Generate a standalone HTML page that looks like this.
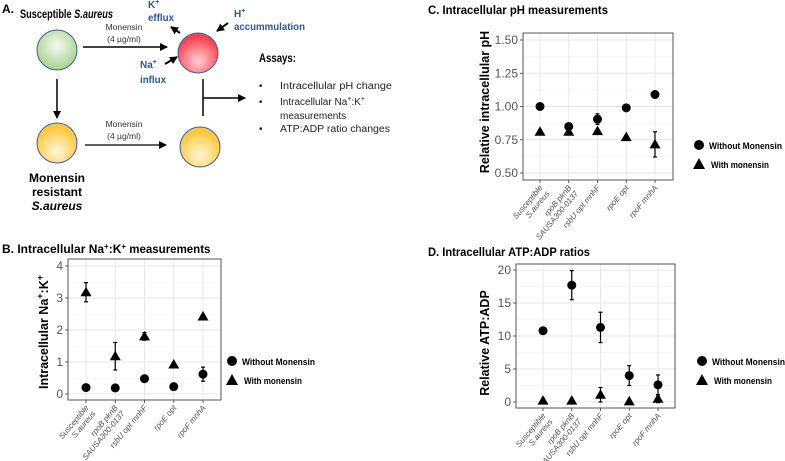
<!DOCTYPE html>
<html><head><meta charset="utf-8"><style>
body{margin:0;background:#fff}
svg{display:block;font-family:"Liberation Sans",sans-serif}
.t{font-weight:bold;font-size:12px;fill:#000}
.b{fill:#2f5597;font-weight:bold;font-size:10px}
</style></head><body>
<svg id="fig" width="785" height="461" viewBox="0 0 785 461">
<defs><marker id="ah" markerUnits="userSpaceOnUse" markerWidth="8" markerHeight="8" refX="7" refY="4" orient="auto"><path d="M0,0 L8,4 L0,8 z" fill="#000"/></marker>
<radialGradient id="gG" cx="50%" cy="40%" r="60%"><stop offset="0" stop-color="#f4faf0"/><stop offset="1" stop-color="#a9d18e"/></radialGradient>
<radialGradient id="gR" cx="50%" cy="70%" r="60%"><stop offset="0" stop-color="#ffd0d4"/><stop offset="1" stop-color="#ff4050"/></radialGradient>
<radialGradient id="gY" cx="50%" cy="70%" r="60%"><stop offset="0" stop-color="#fff6d8"/><stop offset="1" stop-color="#ffc73a"/></radialGradient></defs>
<g>
<text x="2" y="13" class="t" font-size="10">A.</text>
<text x="20" y="18" class="t" font-size="9.5" textLength="93" lengthAdjust="spacingAndGlyphs">Susceptible <tspan font-style="italic">S.aureus</tspan></text>
<circle cx="57" cy="50" r="20" fill="url(#gG)" stroke="#3a5fa0"/>
<circle cx="198" cy="53" r="20" fill="url(#gR)" stroke="#3a5fa0"/>
<circle cx="57" cy="143" r="20" fill="url(#gY)" stroke="#3a5fa0"/>
<circle cx="200" cy="147" r="20" fill="url(#gY)" stroke="#3a5fa0"/>
<line x1="83" y1="47" x2="167" y2="47" stroke="#000" stroke-width="1.5" marker-end="url(#ah)"/>
<line x1="85" y1="145" x2="166" y2="145" stroke="#000" stroke-width="1.2" marker-end="url(#ah)"/>
<line x1="57" y1="79" x2="57" y2="118" stroke="#000" stroke-width="1.5" marker-end="url(#ah)"/>
<line x1="203" y1="79" x2="203" y2="116" stroke="#000" stroke-width="1.5"/>
<line x1="203" y1="98" x2="245" y2="98" stroke="#000" stroke-width="1.5" marker-end="url(#ah)"/>
<line x1="180" y1="33" x2="171" y2="27" stroke="#000" stroke-width="2" marker-end="url(#ah)"/>
<line x1="228" y1="23" x2="217" y2="31" stroke="#000" stroke-width="2" marker-end="url(#ah)"/>
<line x1="165" y1="64" x2="177" y2="57" stroke="#000" stroke-width="2" marker-end="url(#ah)"/>
<g font-size="8.5" fill="#333" text-anchor="middle"><text x="124" y="30">Monensin</text><text x="124" y="42">(4 µg/ml)</text>
<text x="124" y="127">Monensin</text><text x="124" y="139">(4 µg/ml)</text></g>
<text x="148" y="8" class="b">K<tspan dy="-4" font-size="7">+</tspan></text><text x="148" y="21" class="b" textLength="26" lengthAdjust="spacingAndGlyphs">efflux</text>
<text x="234" y="17" class="b">H<tspan dy="-4" font-size="7">+</tspan></text><text x="234" y="30" class="b" textLength="71" lengthAdjust="spacingAndGlyphs">accummulation</text>
<text x="140" y="68" class="b">Na<tspan dy="-4" font-size="7">+</tspan></text><text x="140" y="83" class="b" textLength="26" lengthAdjust="spacingAndGlyphs">influx</text>
<text x="259" y="62" class="t" font-size="10.5" textLength="37" lengthAdjust="spacingAndGlyphs">Assays:</text>
<g font-size="10" fill="#222"><text x="259" y="89">•</text><text x="280" y="89" textLength="112" lengthAdjust="spacingAndGlyphs">Intracellular pH change</text>
<text x="259" y="105">•</text><text x="280" y="105">Intracellular Na<tspan dy="-4" font-size="7">+</tspan><tspan dy="4">:K</tspan><tspan dy="-4" font-size="7">+</tspan></text>
<text x="280" y="119">measurements</text>
<text x="259" y="132">•</text><text x="280" y="132" textLength="110" lengthAdjust="spacingAndGlyphs">ATP:ADP ratio changes</text></g>
<g class="t" font-size="9" text-anchor="middle"><text x="57" y="182">Monensin</text><text x="57" y="196">resistant</text><text x="57" y="210" font-style="italic">S.aureus</text></g>
</g>
<text x="428" y="14" class="t" textLength="180" lengthAdjust="spacingAndGlyphs">C. Intracellular pH measurements</text>
<text x="2" y="253" class="t" font-size="11.5">B. Intracellular Na<tspan dy="-4" font-size="8">+</tspan><tspan dy="4">:K</tspan><tspan dy="-4" font-size="8">+</tspan><tspan dy="4" font-size="11.5">&#160;measurements</tspan></text>
<text x="428" y="256" class="t" textLength="162" lengthAdjust="spacingAndGlyphs">D. Intracellular ATP:ADP ratios</text>
</svg>
<script>
const categories = [["Susceptible","S.aureus"],["rpoB pknB","SAUSA300-0137"],["rsbU opt mnhF"],["rpoE opt"],["rpoF mnhA"]];
const phTicks = [0.5,0.75,1.0,1.25,1.5];
const phTickLabels = ["0.50","0.75","1.00","1.25","1.50"];
const phWithout = [1.00,0.85,0.905,0.99,1.09];
const phWithoutErr = [0,0,0.04,0,0];
const phWith = [0.81,0.81,0.815,0.77,0.715];
const phWithErr = [0,0,0,0,0.095];
const naTicks = [0,1,2,3,4];
const naTickLabels = ["0","1","2","3","4"];
const naWithout = [0.2,0.19,0.48,0.23,0.62];
const naWithoutErr = [0,0,0,0,0.22];
const naWith = [3.18,1.18,1.8,0.92,2.42];
const naWithErr = [0.3,0.43,0.12,0,0.05];
const atpTicks = [0,5,10,15,20];
const atpTickLabels = ["0","5","10","15","20"];
const atpWithout = [10.8,17.7,11.3,4.0,2.6];
const atpWithoutErr = [0,2.2,2.3,1.5,1.5];
const atpWith = [0.2,0.2,1.1,0.1,0.5];
const atpWithErr = [0,0,1.1,0,0.6];

const NS="http://www.w3.org/2000/svg";
const svg=document.getElementById('fig');
function mk(tag,attrs,parent){const e=document.createElementNS(NS,tag);for(const k in attrs)e.setAttribute(k,attrs[k]);(parent||svg).appendChild(e);return e;}
function panel(p){
  const g=mk('g',{});
  
  
  const ymin=p.ticks[0],ymax=p.ticks[p.ticks.length-1];
  const y=v=>p.y0+(v-ymin)/(ymax-ymin)*(p.y1-p.y0);
  const n=categories.length;
  const x=i=>p.c0+i*(p.c1-p.c0)/(n-1);
  mk('rect',{x:p.L,y:p.T,width:p.R-p.L,height:p.B-p.T,fill:'#fff'},g);
  for(let i=0;i<p.ticks.length-1;i++){const m=(p.ticks[i]+p.ticks[i+1])/2;mk('line',{x1:p.L,x2:p.R,y1:y(m),y2:y(m),stroke:'#f2f2f2','stroke-width':0.6},g);}
  p.ticks.forEach((t,i)=>{
    mk('line',{x1:p.L,x2:p.R,y1:y(t),y2:y(t),stroke:'#e6e6e6','stroke-width':0.9},g);
    mk('line',{x1:p.L-3,x2:p.L,y1:y(t),y2:y(t),stroke:'#333','stroke-width':0.8},g);
    const tl=mk('text',{x:p.L-5,y:y(t)+4,'text-anchor':'end','font-size':12,fill:'#555'},g);
    tl.textContent=p.labels[i];
    
    
  });
  categories.forEach((c,i)=>{
    mk('line',{x1:x(i),x2:x(i),y1:p.T,y2:p.B,stroke:'#e6e6e6','stroke-width':0.9},g);
    mk('line',{x1:x(i),x2:x(i),y1:p.B,y2:p.B+3,stroke:'#333','stroke-width':0.8},g);
    const tg=mk('g',{transform:`translate(${x(i)+3},${p.B+8}) rotate(-50)`},g);
    c.forEach((s,k)=>{const t=mk('text',{x:0,y:k*9,'text-anchor':'end','font-size':8,'font-style':'italic',fill:'#4d4d4d'},tg);t.textContent=s;
      
      });
  });
  mk('rect',{x:p.L,y:p.T,width:p.R-p.L,height:p.B-p.T,fill:'none',stroke:'#444','stroke-width':0.9},g);
  function err(vals,errs){vals.forEach((v,i)=>{if(errs[i]>0){const xx=x(i);mk('line',{x1:xx,x2:xx,y1:y(v-errs[i]),y2:y(v+errs[i]),stroke:'#000','stroke-width':1.2},g);
    [v-errs[i],v+errs[i]].forEach(e=>mk('line',{x1:xx-2,x2:xx+2,y1:y(e),y2:y(e),stroke:'#000','stroke-width':1.2},g));}});}
  err(p.wo,p.woe);err(p.w,p.we);
  p.wo.forEach((v,i)=>{const c=mk('circle',{cx:x(i),cy:y(v),r:4.5,fill:'#000'},g);
    
    });
  p.w.forEach((v,i)=>{const xx=x(i),yy=y(v);const t=mk('path',{d:`M${xx},${yy-5.5} L${xx+5.5},${yy+4} L${xx-5.5},${yy+4} Z`,fill:'#000'},g);
    
    });
  const yt=mk('text',{x:0,y:0,transform:`translate(${p.yx},${p.yc}) rotate(-90)`,'text-anchor':'middle','font-size':12.5,'font-weight':'bold',fill:'#000'},g);
  yt.innerHTML=p.ytitle;
  
  
  const lg=mk('g',{},g);
  
  
  mk('circle',{cx:p.lx,cy:p.ly,r:5,fill:'#000'},lg);
  mk('path',{d:`M${p.lx},${p.ly+13} L${p.lx+6},${p.ly+24} L${p.lx-6},${p.ly+24} Z`,fill:'#000'},lg);
  const a=mk('text',{x:p.lx+10,y:p.ly+4,'font-size':9,'font-weight':'bold',textLength:73,lengthAdjust:'spacingAndGlyphs'},lg);a.textContent='Without Monensin';
  const b=mk('text',{x:p.lx+12,y:p.ly+23,'font-size':9,'font-weight':'bold',textLength:58,lengthAdjust:'spacingAndGlyphs'},lg);b.textContent='With monensin';
}
panel({name:'panel-c-ph-chart',L:523,R:673,T:33,B:180,y0:173,y1:40,c0:540,c1:655,ticks:phTicks,labels:phTickLabels,wo:phWithout,woe:phWithoutErr,w:phWith,we:phWithErr,yx:489,yc:102,ytitle:'Relative intracellular pH',lx:699,ly:145});
panel({name:'panel-b-na-k-chart',L:68,R:221,T:259,B:400,y0:394,y1:266,c0:86,c1:203,ticks:naTicks,labels:naTickLabels,wo:naWithout,woe:naWithoutErr,w:naWith,we:naWithErr,yx:48,yc:332,ytitle:'Intracellular Na<tspan dy="-5" font-size="9">+</tspan><tspan dy="5">:K</tspan><tspan dy="-5" font-size="9">+</tspan>',lx:232,ly:361});
panel({name:'panel-d-atp-adp-chart',L:516,R:675,T:264,B:408,y0:402,y1:270,c0:543,c1:658,ticks:atpTicks,labels:atpTickLabels,wo:atpWithout,woe:atpWithoutErr,w:atpWith,we:atpWithErr,yx:489,yc:343,ytitle:'Relative ATP:ADP',lx:702,ly:361});
</script>
</body></html>
